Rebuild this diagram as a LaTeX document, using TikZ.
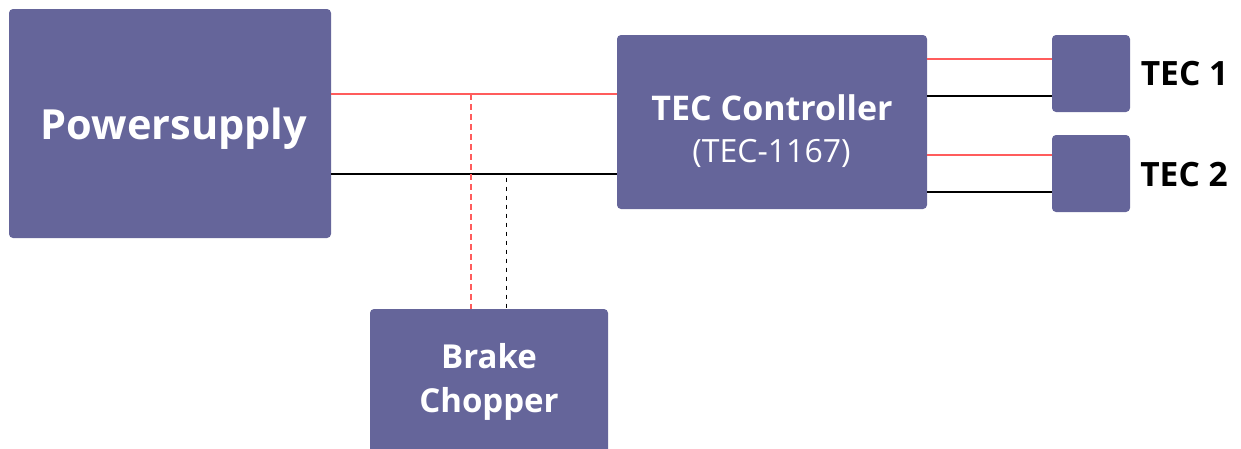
\documentclass[tikz,border=0pt]{standalone}
\usepackage{fontspec}
\setmainfont{Open Sans}
\definecolor{boxfill}{RGB}{101,101,154}
\definecolor{wirered}{RGB}{255,92,92}
\begin{document}
\begin{tikzpicture}[x=1pt, y=-1pt,
    box/.style={fill=boxfill, rounded corners=4pt, inner sep=0pt},
    plus/.style={draw=wirered, line width=2pt},
    minus/.style={draw=black, line width=2pt},
    plustap/.style={plus, line width=1.6pt, dash pattern=on 6pt off 4pt},
    minustap/.style={minus, line width=1.2pt, dash pattern=on 4pt off 5pt},
    title/.style={text=white, anchor=base, inner sep=0pt, font=\bfseries\fontsize{33}{40}\selectfont},
    tag/.style={title, text=black, font=\bfseries\fontsize{33.5}{40}\selectfont}]
  % pixel grid of the drawing, y grows downwards
  \useasboundingbox (0,0) rectangle (1241,448);
  \node[box, minimum width=322pt, minimum height=229pt] (psu) at (170,123.5) {};
  \node[box, minimum width=310pt, minimum height=174pt] (ctrl) at (772,122) {};
  \node[box, minimum width=78pt, minimum height=77pt] (tec1) at (1091,73.5) {};
  \node[box, minimum width=78pt, minimum height=77pt] (tec2) at (1091,173.5) {};
  \node[box, minimum width=238pt, minimum height=161pt] (chop) at (489,389.5) {};
  \node[title, font=\bfseries\fontsize{41.5}{50}\selectfont] (psuname) at (174,139) {Powersupply};
  \node[title, font=\bfseries\fontsize{34}{42}\selectfont] (ctrlname) at (772,120) {TEC Controller};
  \node[title, font=\fontsize{32}{40}\selectfont] (ctrltype) at (771.5,162) {(TEC-1167)};
  \node[title] (chopname) at (489,368) {Brake};
  \node[title] (chopname2) at (489,412) {Chopper};
  \node[tag] (tec1name) at (1184.5,85) {TEC 1};
  \node[tag] (tec2name) at (1184,186) {TEC 2};
  % supply bus
  \coordinate (rbus) at (0,94.3);
  \coordinate (bbus) at (0,173.5);
  \draw[plus] (psu.east |- rbus) -- (ctrl.west |- rbus);
  \draw[minus] (psu.east |- bbus) -- (ctrl.west |- bbus);
  \coordinate (rtap) at (470.7,94.3);
  \coordinate (btap) at (506.7,177.7);
  \draw[minustap] (btap) -- (btap |- chop.north);
  \draw[plustap] (rtap) -- (rtap |- chop.north);
  % outputs
  \coordinate (r1) at ([yshift=14.2pt]tec1.west);
  \coordinate (b1) at ([yshift=-22.5pt]tec1.west);
  \coordinate (r2) at ([yshift=18.5pt]tec2.west);
  \coordinate (b2) at ([yshift=-18.2pt]tec2.west);
  \draw[plus] (ctrl.east |- r1) -- (r1);
  \draw[minus] (ctrl.east |- b1) -- (b1);
  \draw[plus] (ctrl.east |- r2) -- (r2);
  \draw[minus] (ctrl.east |- b2) -- (b2);
\end{tikzpicture}
\end{document}
